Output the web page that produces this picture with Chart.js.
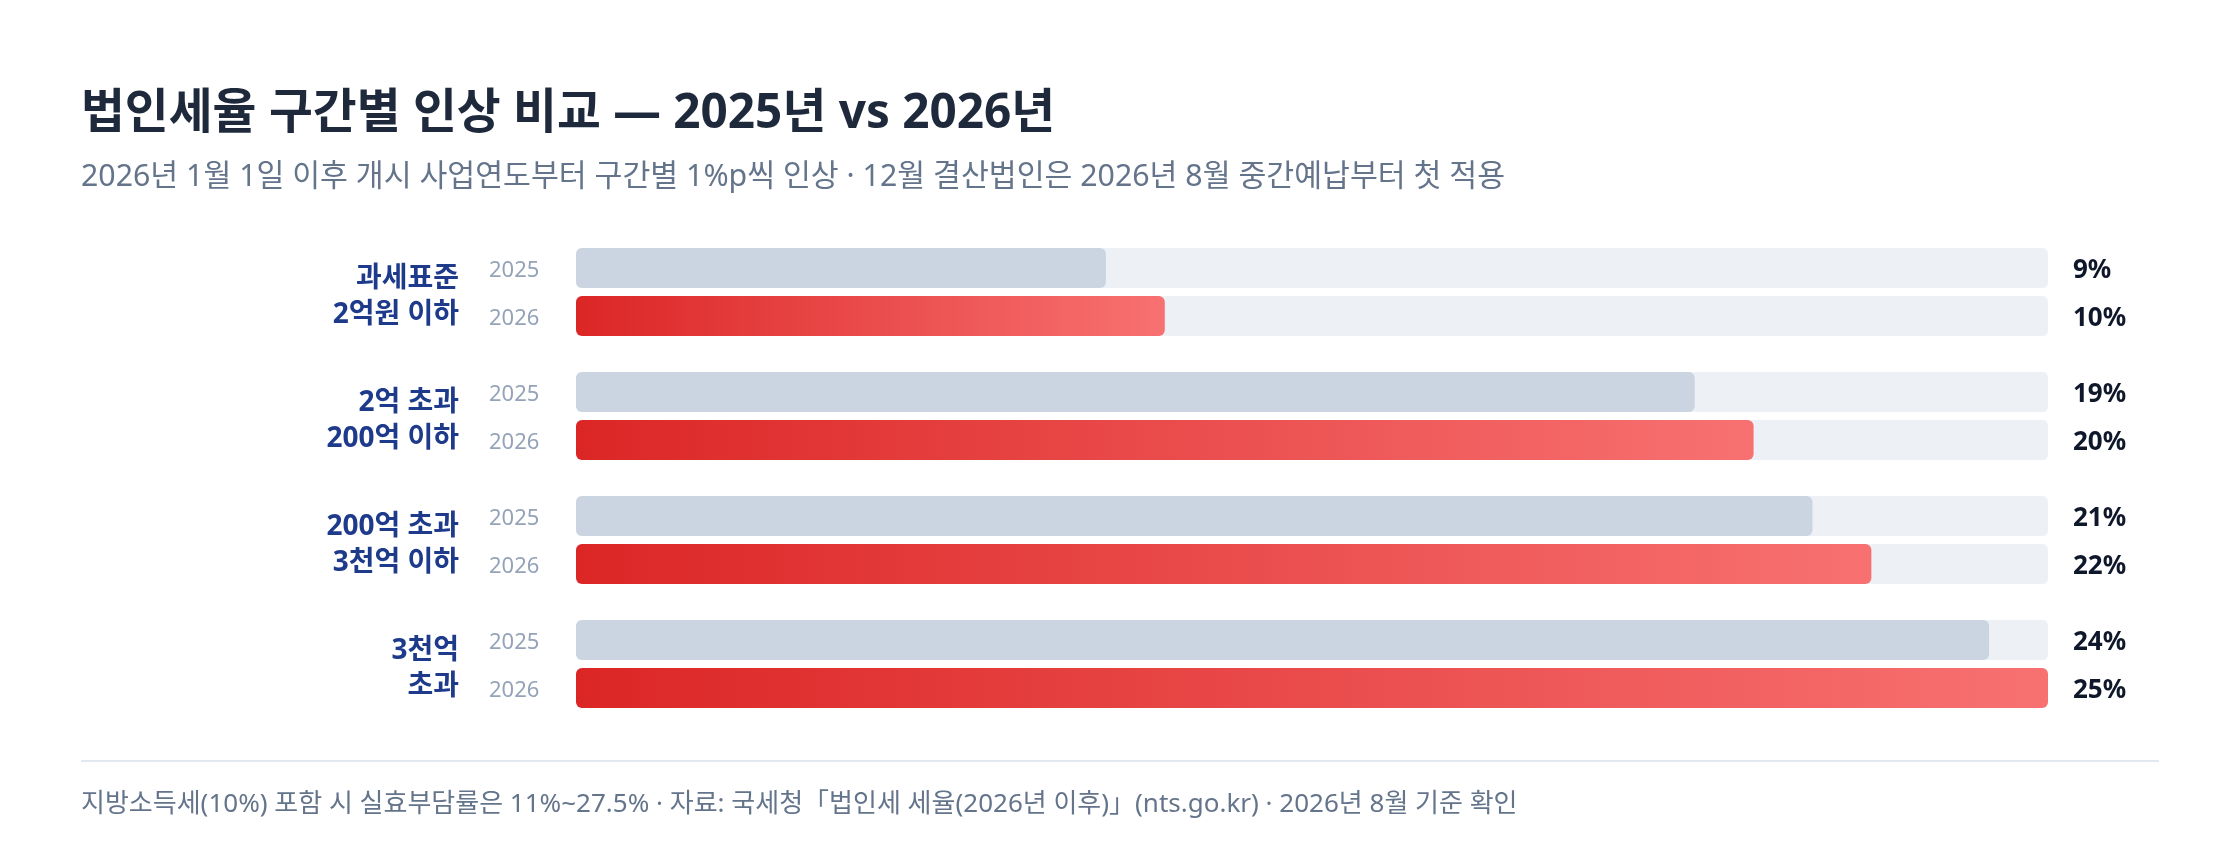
<!DOCTYPE html>
<html>
<head>
<meta charset="utf-8">
<script src="https://cdn.jsdelivr.net/npm/chart.js@4"></script>
<style>
  body { margin: 0; background: #fff; font-family: "Noto Sans", "Noto Sans CJK KR", sans-serif; }
  #wrap { position: relative; width: 2240px; height: 860px; overflow: hidden; }
  #chart { position: absolute; left: 0; top: 0; }
  .t { position: absolute; left: 81px; white-space: nowrap; }
  #title { top: 82px; font-size: 47.7px; line-height: 56px; font-weight: 700; color: #1e293b; }
  #sub { top: 157px; font-size: 30.3px; line-height: 36px; color: #64748b; }
  #rule { position: absolute; left: 81px; width: 2078px; top: 760px; height: 2px; background: #e2e8f0; }
  #foot { top: 786px; font-size: 26px; line-height: 32px; color: #64748b; }
</style>
</head>
<body>
<div id="wrap">
  <canvas id="chart" width="2240" height="860"></canvas>
  <div class="t" id="title">법인세율 구간별 인상 비교 — 2025년 vs 2026년</div>
  <div class="t" id="sub">2026년 1월 1일 이후 개시 사업연도부터 구간별 1%p씩 인상 · 12월 결산법인은 2026년 8월 중간예납부터 첫 적용</div>
  <div id="rule"></div>
  <div class="t" id="foot">지방소득세(10%) 포함 시 실효부담률은 11%~27.5% · 자료: 국세청「법인세 세율(2026년 이후)」(nts.go.kr) · 2026년 8월 기준 확인</div>
</div>
<script>
// 과세표준 구간
var brackets = [
  ['과세표준', '2억원 이하'],
  ['2억 초과', '200억 이하'],
  ['200억 초과', '3천억 이하'],
  ['3천억', '초과']
];
var years = ['2025', '2026'];
var rate2025 = [9, 19, 21, 24];
var rate2026 = [10, 20, 22, 25];
var maxRate = 25;

var FONT = '"Noto Sans", "Noto Sans CJK KR", sans-serif';

// 2026 막대: 막대마다 왼쪽→오른쪽 그라데이션
function redGrad(c) {
  var chart = c.chart, area = chart.chartArea;
  if (!area) return '#dc2626';
  var x1 = chart.scales.x.getPixelForValue(c.raw);
  var g = chart.ctx.createLinearGradient(area.left, 0, x1, 0);
  g.addColorStop(0, '#dc2626');
  g.addColorStop(1, '#f87171');
  return g;
}

function rrect(ctx, x, y, w, h, r) {
  ctx.beginPath();
  ctx.moveTo(x + r, y);
  ctx.lineTo(x + w - r, y);
  ctx.quadraticCurveTo(x + w, y, x + w, y + r);
  ctx.lineTo(x + w, y + h - r);
  ctx.quadraticCurveTo(x + w, y + h, x + w - r, y + h);
  ctx.lineTo(x + r, y + h);
  ctx.quadraticCurveTo(x, y + h, x, y + h - r);
  ctx.lineTo(x, y + r);
  ctx.quadraticCurveTo(x, y, x + r, y);
  ctx.closePath();
}

var barExtras = {
  id: 'barExtras',
  beforeDatasetsDraw: function(chart) {
    var ctx = chart.ctx, area = chart.chartArea;
    ctx.save();
    ctx.fillStyle = '#edf0f5';
    chart.data.datasets.forEach(function(ds, i) {
      chart.getDatasetMeta(i).data.forEach(function(el) {
        rrect(ctx, area.left, el.y - el.height / 2, area.right - area.left, el.height, 6);
        ctx.fill();
      });
    });
    ctx.restore();
  },
  afterDatasetsDraw: function(chart) {
    var ctx = chart.ctx, area = chart.chartArea;
    ctx.save();
    ctx.textBaseline = 'middle';
    chart.data.datasets.forEach(function(ds, i) {
      chart.getDatasetMeta(i).data.forEach(function(el, j) {
        // 연도 라벨
        ctx.font = '22px ' + FONT;
        ctx.fillStyle = '#94a3b8';
        ctx.textAlign = 'left';
        ctx.fillText(ds.label, 489, el.y + 3);
        // 값 라벨
        ctx.font = 'bold 26px ' + FONT;
        ctx.fillStyle = '#0f172a';
        ctx.fillText(ds.data[j] + '%', area.right + 25, el.y + 3);
      });
    });
    ctx.restore();
  }
};

new Chart(document.getElementById('chart'), {
  type: 'bar',
  data: {
    labels: brackets,
    datasets: [
      { label: years[0], data: rate2025, backgroundColor: '#cbd5e1' },
      { label: years[1], data: rate2026, backgroundColor: redGrad }
    ]
  },
  options: {
    indexAxis: 'y',
    responsive: false,
    animation: false,
    events: [],
    layout: { padding: { top: 230, bottom: 134, left: 0, right: 192 } },
    datasets: {
      bar: {
        categoryPercentage: 96 / 124,
        barPercentage: 40 / 48,
        borderRadius: 6,
        borderSkipped: false
      }
    },
    scales: {
      x: { display: false, min: 0, max: maxRate },
      y: {
        // 라벨 영역 폭 고정, 큰 tick padding이 세로 여백에 들어가지 않게
        afterFit: function(s) { s.width = 576; s.paddingTop = 0; s.paddingBottom = 0; },
        grid: { display: false, drawTicks: false },
        border: { display: false },
        ticks: {
          padding: 117,
          labelOffset: 5,
          color: '#1e3a8a',
          font: { family: FONT, size: 28, weight: 'bold', lineHeight: 1.3 }
        }
      }
    },
    plugins: {
      legend: { display: false },
      tooltip: { enabled: false }
    }
  },
  plugins: [barExtras]
});
</script>
</body>
</html>
